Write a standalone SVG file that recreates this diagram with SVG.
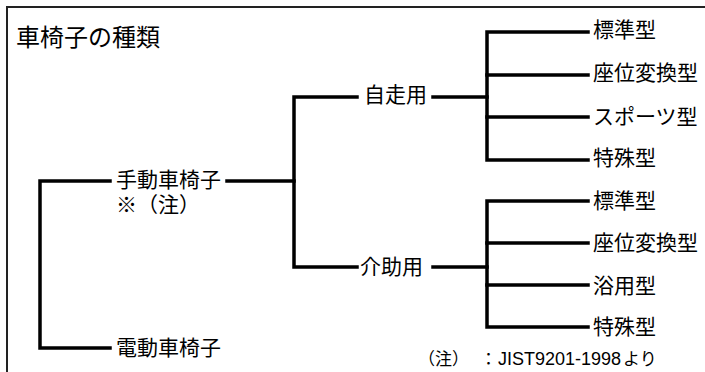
<svg xmlns="http://www.w3.org/2000/svg" width="705" height="372" viewBox="0 0 705 372">
<style>
.bg{fill:#fff}
.frame{fill:none;stroke:#222;stroke-width:2}
.ln{fill:none;stroke:#000;stroke-width:3.5;stroke-linecap:square;stroke-linejoin:miter}
text{font-family:"Noto Sans CJK JP","Noto Sans CJK SC",sans-serif;fill:#000}
.t{font-size:24px}
.n{font-size:21px}
.note{font-size:17px}
.lat{font-family:"Liberation Sans",Arial,sans-serif;font-size:18px}
</style>
<rect class="bg" x="0" y="0" width="705" height="372"/>
<path class="frame" d="M7,372 V7 H705"/>
<text id="title" class="t" x="16" y="46">車椅子の種類</text>
<g id="connectors">
<path class="ln" d="M110,181 H40 V348 H110"/>
<path class="ln" d="M227,181 H294"/>
<path class="ln" d="M357,97 H294 V267 H357"/>
<path class="ln" d="M433,97 H487"/>
<path class="ln" d="M588,32 H487 V160 H588"/>
<path class="ln" d="M487,75 H588"/>
<path class="ln" d="M487,117 H588"/>
<path class="ln" d="M433,267 H487"/>
<path class="ln" d="M588,201 H487 V327 H588"/>
<path class="ln" d="M487,243 H588"/>
<path class="ln" d="M487,285 H588"/>
</g>
<g id="manual"><text class="n" x="116" y="187">手動車椅子</text><text class="n" x="116" y="212">※（注）</text></g>
<g id="electric"><text class="n" x="116" y="355">電動車椅子</text></g>
<g id="self"><text class="n" x="364" y="102">自走用</text></g>
<g id="assist"><text class="n" x="360" y="274">介助用</text></g>
<g id="s1"><text class="n" x="593" y="37">標準型</text></g>
<g id="s2"><text class="n" x="593" y="80">座位変換型</text></g>
<g id="s3"><text class="n" x="593" y="124">スポーツ型</text></g>
<g id="s4"><text class="n" x="593" y="165">特殊型</text></g>
<g id="a1"><text class="n" x="593" y="208">標準型</text></g>
<g id="a2"><text class="n" x="593" y="250">座位変換型</text></g>
<g id="a3"><text class="n" x="593" y="293">浴用型</text></g>
<g id="a4"><text class="n" x="593" y="334">特殊型</text></g>
<g id="footnote"><text class="note" y="365"><tspan x="418">（注）</tspan><tspan x="480">：</tspan><tspan class="lat" x="498">JIST9201-1998</tspan><tspan x="623">より</tspan></text></g>
</svg>
